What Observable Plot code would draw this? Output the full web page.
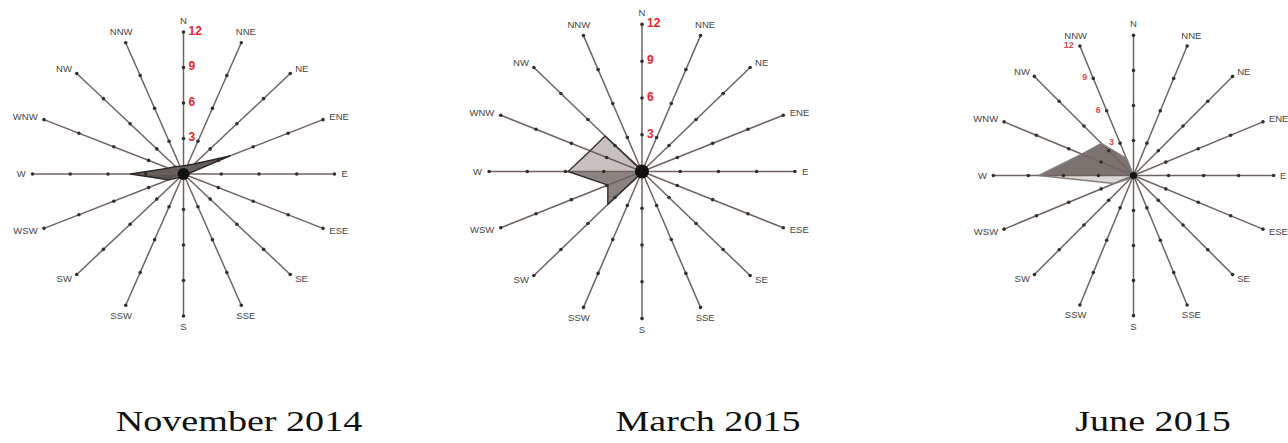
<!DOCTYPE html>
<html><head><meta charset="utf-8">
<script src="https://cdn.jsdelivr.net/npm/d3@7"></script>
<script src="https://cdn.jsdelivr.net/npm/@observablehq/plot@0.6"></script>
<style>
html,body{margin:0;padding:0;background:#fff;overflow:hidden;}
#root{position:relative;width:1288px;height:443px;overflow:hidden;}
.panel{position:absolute;}
.panel svg{max-width:none !important;}
.title{position:absolute;width:400px;text-align:center;font-family:"Liberation Serif","Times New Roman",serif;font-size:30px;line-height:30px;color:#111;transform:scaleX(1.27);transform-origin:50% 50%;white-space:nowrap;}
</style></head><body><div id="root"></div>
<script>
// ---- data ----
const directions = ["N","NNE","NE","ENE","E","ESE","SE","SSE","S","SSW","SW","WSW","W","WNW","NW","NNW"];
const radialTicks = [3, 6, 9, 12];
const panelTitles = ["November 2014", "March 2015", "June 2015"];
const nov2014 = [0.7, 0.8, 1.2, 4.0, 0.3, 0, 0, 0, 0, 0.2, 0.4, 1.3, 4.2, 1.3, 0.9, 0.7];
const mar2015 = [0, 0, 0, 0, 0, 0, 0, 0, 0, 0.2, 3.8, 2.9, 5.8, 4.4, 4.1, 0.2];
const jun2015 = [0, 0, 0, 0, 0, 0, 0, 0, 0, 0, 0.3, 1.8, 8.1, 4.8, 3.9, 1.6];

// ---- layout / style ----
const panels = [
  {values: nov2014, cx: 183, cy: 173, rx: 151, ry: 142, upperFill: "#635c59", lowerFill: "#59524f", outline: "#2a2624", hub: 6, redDir: 0, redSize: 12, redAnchor: "start", redDx: 5, redFill: "#e8242a", titleX: 239},
  {values: mar2015, cx: 641, cy: 171, rx: 153, ry: 147, upperFill: "#c6c1be", lowerFill: "#8a8380", outline: "#35302d", hub: 7, redDir: 0, redSize: 12, redAnchor: "start", redDx: 5, redFill: "#e8242a", titleX: 708},
  {values: jun2015, cx: 1133, cy: 175, rx: 140, ry: 140, upperFill: "#7a7370", lowerFill: "#dcd8d5", outline: "#857e7b", hub: 3.5, redDir: 15, redSize: 9, redAnchor: "end", redDx: -6, redFill: "#e04848", titleX: 1153}
];
const EXT = 15.5;
const middleIdx = [0, 1, 7, 8, 9, 15];
const startIdx = [2, 3, 4, 5, 6];
const endIdx = [10, 11, 12, 13, 14];
const upperIdx = [12, 13, 14, 15, 0, 1, 2, 3, 4];
const lowerIdx = [4, 5, 6, 7, 8, 9, 10, 11, 12];

const X = d => Math.sin(d.a) * d.v;
const Y = d => Math.cos(d.a) * d.v;
const root = document.getElementById("root");

panels.forEach((cfg, k) => {
  const W = Math.round(cfg.rx * 2 * EXT / 12), H = Math.round(cfg.ry * 2 * EXT / 12);
  const pts = directions.map((d, i) => ({dir: d, i, a: i * Math.PI / 8, v: cfg.values[i]}));
  const center = {a: 0, v: 0};
  const upper = [...upperIdx.map(i => pts[i]), center];
  const lower = [...lowerIdx.map(i => pts[i]), center];
  const spokeEnds = pts.map(p => ({a: p.a, v: 12}));
  const ticks = pts.flatMap(p => radialTicks.map(t => ({a: p.a, v: t})));
  const lab = (idx, r) => idx.map(i => ({a: pts[i].a, v: r, dir: directions[i]}));
  const redA = cfg.redDir * Math.PI / 8;
  const red = radialTicks.map(t => ({a: redA, v: t, t}));
  const font = "'Liberation Sans', Arial, sans-serif";
  const chart = Plot.plot({
    width: W, height: H, margin: 0,
    x: {domain: [-EXT, EXT], axis: null},
    y: {domain: [-EXT, EXT], axis: null},
    style: {background: "transparent", overflow: "visible", maxWidth: "none"},
    marks: [
      Plot.line(upper, {x: X, y: Y, curve: "linear-closed", fill: cfg.upperFill, stroke: "none"}),
      Plot.line(lower, {x: X, y: Y, curve: "linear-closed", fill: cfg.lowerFill, stroke: "none"}),
      Plot.link(spokeEnds, {x1: 0, y1: 0, x2: X, y2: Y, stroke: "#6f645f", strokeWidth: 1.5}),
      Plot.line(pts, {x: X, y: Y, curve: "linear-closed", stroke: cfg.outline, strokeWidth: 1.4, fill: "none"}),
      Plot.dot(ticks, {x: X, y: Y, r: 1.8, fill: "#352f2c", stroke: "none"}),
      Plot.dot([center], {x: X, y: Y, r: cfg.hub, fill: "#111", stroke: "none"}),
      Plot.text(lab(middleIdx, 12.95), {x: X, y: Y, text: "dir", textAnchor: "middle", fontSize: 9.5, fill: "#444", fontFamily: font}),
      Plot.text(lab(startIdx, 12.55), {x: X, y: Y, text: "dir", textAnchor: "start", fontSize: 9.5, fill: "#444", fontFamily: font}),
      Plot.text(lab(endIdx, 12.55), {x: X, y: Y, text: "dir", textAnchor: "end", fontSize: 9.5, fill: "#444", fontFamily: font}),
      Plot.text(red, {x: X, y: Y, text: d => String(d.t), textAnchor: cfg.redAnchor, dx: cfg.redDx, dy: -1, fontSize: cfg.redSize, fontWeight: "bold", fill: cfg.redFill, fontFamily: font})
    ]
  });
  const div = document.createElement("div");
  div.className = "panel";
  div.style.left = (cfg.cx - W / 2) + "px";
  div.style.top = (cfg.cy - H / 2) + "px";
  div.style.width = W + "px";
  div.style.height = H + "px";
  div.appendChild(chart);
  root.appendChild(div);

  const t = document.createElement("div");
  t.className = "title";
  t.textContent = panelTitles[k];
  t.style.left = (cfg.titleX - 200) + "px";
  t.style.top = "406px";
  root.appendChild(t);
});
</script>
</body></html>
